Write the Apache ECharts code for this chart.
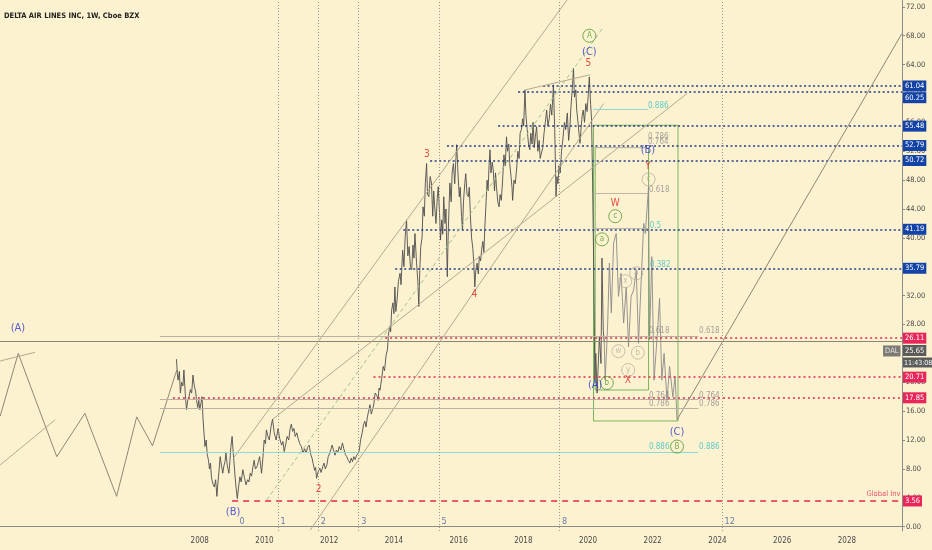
<!DOCTYPE html>
<html><head><meta charset="utf-8">
<script src="https://cdn.jsdelivr.net/npm/echarts@6/dist/echarts.min.js"></script>
<style>html,body{margin:0;padding:0;background:#fdf2d0}#c{width:932px;height:550px}</style>
</head><body><div id="c"></div>
<script>
const chartTitle = 'DELTA AIR LINES INC, 1W, Cboe BZX';
const xTicks = [2008,2010,2012,2014,2016,2018,2020,2022,2024,2026,2028];
const yTicks = [0,4,8,12,16,20,24,28,32,36,40,44,48,52,56,60,64,68,72];
const X_MIN = 2001.826, X_MAX = 2029.703, Y_MIN = -0.6, Y_MAX = 72.95;

// weekly price path
const priceData = [[2007.28,23.2],[2007.31,21.0],[2007.33,20.3],[2007.37,21.5],[2007.40,18.5],[2007.44,20.0],[2007.48,19.5],[2007.51,21.7],[2007.55,18.5],[2007.59,16.2],[2007.63,17.5],[2007.67,18.0],[2007.71,19.0],[2007.75,18.5],[2007.79,21.0],[2007.83,19.5],[2007.87,18.8],[2007.90,17.5],[2007.94,16.5],[2007.97,17.5],[2008.00,16.2],[2008.04,17.2],[2008.07,18.0],[2008.10,15.0],[2008.13,13.0],[2008.16,11.1],[2008.20,12.0],[2008.23,10.0],[2008.27,9.2],[2008.30,8.0],[2008.33,8.8],[2008.36,6.9],[2008.40,6.0],[2008.45,5.5],[2008.49,6.5],[2008.53,4.2],[2008.56,6.0],[2008.60,8.0],[2008.63,9.7],[2008.67,8.5],[2008.71,7.4],[2008.75,8.5],[2008.78,9.0],[2008.81,10.2],[2008.85,8.5],[2008.90,7.4],[2008.93,9.0],[2008.96,11.0],[2009.00,12.5],[2009.03,10.5],[2009.06,8.8],[2009.09,7.0],[2009.12,5.5],[2009.16,3.9],[2009.20,5.5],[2009.24,6.9],[2009.28,6.2],[2009.33,7.9],[2009.38,6.8],[2009.43,5.8],[2009.48,6.5],[2009.52,6.2],[2009.56,7.4],[2009.60,7.0],[2009.64,8.2],[2009.68,9.2],[2009.72,8.0],[2009.77,8.3],[2009.81,9.0],[2009.85,9.7],[2009.88,8.5],[2009.91,7.4],[2009.95,9.5],[2009.99,12.0],[2010.03,11.5],[2010.06,13.4],[2010.10,12.6],[2010.15,12.0],[2010.20,13.8],[2010.25,14.9],[2010.30,13.0],[2010.33,12.5],[2010.36,12.0],[2010.42,13.6],[2010.47,12.2],[2010.53,11.3],[2010.57,11.8],[2010.61,10.4],[2010.66,11.5],[2010.70,12.5],[2010.75,12.0],[2010.79,13.5],[2010.83,14.2],[2010.87,13.2],[2010.91,13.6],[2010.95,12.5],[2011.00,13.0],[2011.04,12.2],[2011.09,11.5],[2011.14,11.1],[2011.19,10.2],[2011.24,10.8],[2011.29,10.2],[2011.33,11.0],[2011.38,11.3],[2011.43,10.0],[2011.47,9.5],[2011.50,8.8],[2011.55,7.8],[2011.58,8.2],[2011.61,6.7],[2011.66,7.6],[2011.71,8.1],[2011.75,7.5],[2011.80,8.3],[2011.84,8.8],[2011.88,8.0],[2011.93,8.6],[2011.97,9.7],[2012.02,10.2],[2012.06,10.8],[2012.09,11.3],[2012.14,10.5],[2012.18,9.9],[2012.22,10.6],[2012.27,10.3],[2012.31,11.1],[2012.36,10.6],[2012.41,11.6],[2012.45,10.8],[2012.50,10.0],[2012.54,9.7],[2012.59,9.2],[2012.64,8.8],[2012.68,9.5],[2012.72,9.0],[2012.76,9.7],[2012.80,9.3],[2012.85,9.9],[2012.90,10.2],[2012.93,10.6],[2012.97,12.0],[2013.02,13.0],[2013.06,14.1],[2013.10,14.6],[2013.14,13.8],[2013.18,15.2],[2013.22,16.0],[2013.26,16.9],[2013.30,15.6],[2013.34,16.2],[2013.38,17.0],[2013.42,18.5],[2013.47,18.2],[2013.51,17.5],[2013.54,19.2],[2013.57,18.9],[2013.62,20.5],[2013.67,22.2],[2013.71,21.6],[2013.76,23.8],[2013.80,24.5],[2013.83,26.5],[2013.87,27.8],[2013.90,27.0],[2013.93,30.0],[2013.97,31.0],[2014.00,29.5],[2014.03,33.2],[2014.06,29.8],[2014.10,31.5],[2014.14,34.0],[2014.19,35.1],[2014.22,33.5],[2014.27,38.3],[2014.31,36.0],[2014.35,40.2],[2014.39,42.5],[2014.43,37.5],[2014.47,38.8],[2014.51,36.0],[2014.55,35.6],[2014.59,39.0],[2014.62,37.2],[2014.65,40.6],[2014.70,36.5],[2014.74,34.0],[2014.77,30.5],[2014.80,35.5],[2014.83,38.8],[2014.87,40.0],[2014.90,44.3],[2014.94,43.0],[2014.97,47.5],[2015.01,50.3],[2015.04,46.0],[2015.08,45.7],[2015.12,48.5],[2015.16,47.6],[2015.20,43.0],[2015.23,46.5],[2015.26,44.3],[2015.30,42.0],[2015.34,45.5],[2015.37,47.1],[2015.41,43.5],[2015.44,39.7],[2015.48,42.5],[2015.51,40.5],[2015.54,45.7],[2015.58,42.0],[2015.61,44.0],[2015.65,34.6],[2015.68,41.0],[2015.73,47.6],[2015.77,45.0],[2015.80,49.0],[2015.84,50.3],[2015.88,47.5],[2015.91,50.5],[2015.94,52.9],[2015.98,49.0],[2016.02,45.7],[2016.05,47.0],[2016.09,43.0],[2016.12,41.1],[2016.15,45.0],[2016.19,47.5],[2016.22,48.9],[2016.26,46.0],[2016.30,45.7],[2016.33,47.0],[2016.37,42.5],[2016.40,40.0],[2016.44,38.5],[2016.47,36.5],[2016.50,33.2],[2016.53,35.5],[2016.57,36.5],[2016.61,35.0],[2016.64,37.5],[2016.68,36.8],[2016.71,38.3],[2016.75,39.5],[2016.78,38.0],[2016.81,41.5],[2016.85,45.0],[2016.88,48.0],[2016.91,46.5],[2016.94,50.0],[2016.97,52.2],[2017.00,49.0],[2017.04,50.5],[2017.07,49.4],[2017.11,46.5],[2017.14,49.0],[2017.17,47.1],[2017.21,45.0],[2017.25,44.3],[2017.28,46.0],[2017.32,45.2],[2017.36,48.0],[2017.40,51.5],[2017.44,50.0],[2017.48,54.0],[2017.51,52.0],[2017.55,53.0],[2017.58,50.3],[2017.62,48.5],[2017.65,47.0],[2017.67,45.2],[2017.71,48.0],[2017.75,47.5],[2017.79,49.4],[2017.83,52.0],[2017.87,51.0],[2017.90,54.5],[2017.94,55.0],[2017.98,56.5],[2018.01,55.5],[2018.05,60.5],[2018.08,57.0],[2018.12,55.0],[2018.16,53.0],[2018.20,52.2],[2018.23,54.5],[2018.27,53.0],[2018.30,56.0],[2018.34,52.5],[2018.37,54.0],[2018.41,55.4],[2018.45,52.0],[2018.49,53.5],[2018.52,51.0],[2018.56,50.8],[2018.60,52.5],[2018.64,54.5],[2018.68,56.0],[2018.72,57.7],[2018.76,55.5],[2018.80,56.5],[2018.84,58.5],[2018.88,57.0],[2018.93,61.2],[2018.95,58.0],[2018.97,55.0],[2018.99,50.5],[2019.01,45.7],[2019.04,48.5],[2019.07,47.5],[2019.10,50.0],[2019.14,49.0],[2019.18,52.0],[2019.23,54.0],[2019.27,56.0],[2019.31,55.0],[2019.36,57.3],[2019.40,53.5],[2019.44,55.4],[2019.47,58.0],[2019.51,60.5],[2019.55,63.5],[2019.58,59.5],[2019.62,60.5],[2019.65,57.7],[2019.69,56.0],[2019.72,54.5],[2019.75,53.1],[2019.79,55.5],[2019.82,57.0],[2019.85,57.7],[2019.89,56.0],[2019.93,58.6],[2019.97,57.5],[2020.01,60.0],[2020.04,62.3],[2020.08,58.5],[2020.11,56.3],[2020.14,48.0],[2020.18,34.2],[2020.21,20.3],[2020.24,24.0],[2020.28,18.5],[2020.35,26.3],[2020.40,22.6],[2020.43,37.2],[2020.47,27.2],[2020.50,25.65]];

// projected (ghost) path after the last bar
const ghostPath = [[2020.50,25.65],[2020.53,20.3],[2020.60,27.2],[2020.66,36.5],[2020.72,29.6],[2020.79,39.3],[2020.87,40.6],[2020.94,31.9],[2021.02,35.1],[2021.10,28.2],[2021.18,33.2],[2021.25,24.9],[2021.33,31.9],[2021.41,32.8],[2021.49,35.6],[2021.56,25.4],[2021.63,32.8],[2021.72,42.0],[2021.77,40.6],[2021.87,47.1],[2021.90,25.9],[2021.97,37.4],[2022.04,20.3],[2022.15,27.2],[2022.21,31.6],[2022.28,20.3],[2022.35,24.0],[2022.44,17.5],[2022.52,22.2],[2022.62,18.0],[2022.69,20.8],[2022.75,14.8]];

// hand-drawn path before the listing
const preListingPath = [[2001.83,15.3],[2002.39,24.0],[2003.58,9.7],[2004.45,15.7],[2005.43,4.2],[2006.05,15.2],[2006.54,11.2],[2007.29,21.7]];

const navyLevels = [61.04,60.25,55.48,52.79,50.72,41.19,35.79];
const navyStarts = [2018.61,2017.84,2017.22,2015.64,2015.12,2014.29,2014.04];
const redLevels = [26.11,20.71,17.85];
const redStarts = [2013.73,2013.37,2007.17];
const globalInv = 3.56, globalInvStart = 2009.0;
const globalInvText = [[2029.13,4.53,'Global Inv']];
const lastPrice = 25.65, countdown = '11:43:08', ticker = 'DAL';

const trendLines = [
  [[2009.04,9.5],[2019.35,72.95]],
  [[2011.41,-0.5],[2020.48,58.6]],
  [[2010.26,14.9],[2023.06,60.0]],
  [[2018.06,60.5],[2020.07,62.6]],
  [[2001.83,8.55],[2003.53,14.8]],
  [[2001.83,22.95],[2002.91,24.15]]
];
const projectionLine = [[2022.75,14.8],[2029.70,68.3]];
const dashedTrend = [[2010.07,3.7],[2020.48,69.25]];

const fibLowStart = 2006.77, fibLowEnd = 2023.41;
const fibLowGrey = [26.41,17.65,16.34];
const fibLowCyan = [10.3];
const fibHighStart = 2020.16, fibHighEnd = 2021.86;
const fibHighGrey = [52.5,46.2,41.3];
const fibHighCyan = [57.8];

const boxes = [[[2020.17,55.6],[2022.78,14.64]],[[2020.22,52.5],[2021.87,18.93]]];

const fibZoneLines = [2010.42,2011.66,2012.91,2015.39,2019.12,2024.14];
const fibZoneLabels = [[2009.15,0.65,'0'],[2010.42,0.65,'1'],[2011.66,0.65,'2'],[2012.91,0.65,'3'],[2015.39,0.65,'5'],[2019.12,0.65,'8'],[2024.14,0.65,'12']];

const blueLabels = [[2002.38,27.5,'(A)'],[2009.03,2.0,'(B)'],[2020.04,65.7,'(C)'],[2020.22,19.6,'(A)'],[2021.85,52.2,'(B)'],[2022.75,13.1,'(C)']];
const redLabels = [[2011.67,5.2,'2'],[2015.02,51.5,'3'],[2016.49,32.2,'4'],[2020.01,64.1,'5'],[2020.84,44.8,'W'],[2021.23,20.2,'X'],[2021.85,49.9,'Y']];
const greenCircles = [[2020.04,68.0,'A'],[2020.84,43.0,'c'],[2020.43,39.8,'a'],[2020.58,19.9,'b'],[2022.75,11.1,'B']];
const greyCircles = [[2020.94,24.3,'w'],[2021.15,34.0,'x'],[2021.49,35.1,'a'],[2021.54,24.1,'b'],[2021.24,21.7,'y'],[2021.87,48.1,'c']];
const fibGreyTexts = [[2023.75,27.1,'0.618'],[2022.2,27.1,'0.618'],[2023.75,18.1,'0.764'],[2022.2,18.1,'0.764'],[2023.75,17.0,'0.786'],[2022.2,17.0,'0.786'],[2022.17,54.0,'0.786'],[2022.17,53.3,'0.764'],[2022.2,46.6,'0.618']];
const fibCyanTexts = [[2023.75,11.0,'0.886'],[2022.2,11.0,'0.886'],[2022.17,58.3,'0.886'],[2022.08,41.6,'0.5'],[2022.23,36.3,'0.382']];

const FONT = "'Liberation Sans Narrow','DejaVu Sans Condensed','Roboto Condensed','Liberation Sans',sans-serif";
const NAVY = '#1f3b8a', NAVY_BG = '#1343a6', RED = '#e4284f', RED_BG = '#e8265a';
const TREND = '#b3a98f';

const tag = (bg, txt, extra) => Object.assign({show:true, position:'end', distance:1, formatter:txt, backgroundColor:bg, color:'#fff', fontSize:7.5, padding:[2,2,1,2], fontFamily:FONT}, extra||{});

const mlData = [];
navyLevels.forEach((v,i)=>{
  mlData.push([{coord:[navyStarts[i],v], lineStyle:{color:NAVY,type:[2,2.5],width:1.6}, label:tag(NAVY_BG, v.toFixed(2), i===1?{offset:[0,6]}:{})},{coord:[X_MAX,v]}]);
});
redLevels.forEach((v,i)=>{
  mlData.push([{coord:[redStarts[i],v], lineStyle:{color:RED,type:[2,3],width:1.6}, label:tag(RED_BG, v.toFixed(2))},{coord:[X_MAX,v]}]);
});
mlData.push([{coord:[globalInvStart,globalInv], lineStyle:{color:RED,type:[6,5],width:1.6}, label:tag(RED_BG, globalInv.toFixed(2))},{coord:[X_MAX,globalInv]}]);
// last price line and tags
mlData.push([{coord:[X_MIN,lastPrice], lineStyle:{color:'#8b8576',type:'solid',width:1}, label:{show:true, position:'end', distance:1, offset:[0,15], fontFamily:FONT,
  formatter:'{p|'+lastPrice.toFixed(2)+'}\n{t|'+countdown+'}',
  rich:{p:{backgroundColor:'#5b5b5b',color:'#fff',fontSize:7.5,padding:[2,2,1,2],lineHeight:12,fontFamily:FONT},t:{backgroundColor:'#5b5b5b',color:'#fff',fontSize:7,padding:[2,1,1,1],lineHeight:12,fontFamily:FONT}}}},{coord:[X_MAX,lastPrice]}]);
// trend lines
trendLines.forEach(s=>mlData.push([{coord:s[0], lineStyle:{color:TREND,width:1,type:'solid'}, label:{show:false}},{coord:s[1]}]));
mlData.push([{coord:projectionLine[0], lineStyle:{color:'#8f8674',width:1,type:'solid'}, label:{show:false}},{coord:projectionLine[1]}]);
mlData.push([{coord:dashedTrend[0], lineStyle:{color:'#9ec48a',width:1,type:[4,3]}, label:{show:false}},{coord:dashedTrend[1]}]);
// fib lines
fibLowGrey.forEach(v=>mlData.push([{coord:[fibLowStart,v], lineStyle:{color:'#b9b2a2',width:1,type:'solid'}, label:{show:false}},{coord:[fibLowEnd,v]}]));
fibLowCyan.forEach(v=>mlData.push([{coord:[fibLowStart,v], lineStyle:{color:'#8ed8d6',width:1,type:'solid'}, label:{show:false}},{coord:[fibLowEnd,v]}]));
fibHighGrey.forEach(v=>mlData.push([{coord:[fibHighStart,v], lineStyle:{color:'#bdb6a6',width:1,type:'solid'}, label:{show:false}},{coord:[fibHighEnd,v]}]));
fibHighCyan.forEach(v=>mlData.push([{coord:[fibHighStart,v], lineStyle:{color:'#8ed8d6',width:1,type:'solid'}, label:{show:false}},{coord:[fibHighEnd,v]}]));
// fib time zones
fibZoneLines.forEach(x=>mlData.push({xAxis:x, lineStyle:{color:'#9a968c',width:1,type:[1,2]}, label:{show:false}}));

const textSeries = (data, color, size, weight) => ({
  type:'scatter', data, symbolSize:1, itemStyle:{color:'rgba(0,0,0,0)'}, silent:true, z:6, clip:false,
  label:{show:true, position:'inside', formatter:p=>p.value[2], color, fontSize:size, fontWeight:weight||'normal', fontFamily:FONT}
});
const circleSeries = (data, color) => ({
  type:'scatter', data, symbol:'circle', symbolSize:13, silent:true, z:6,
  itemStyle:{color:'rgba(0,0,0,0)', borderColor:color, borderWidth:1},
  label:{show:true, position:'inside', formatter:p=>p.value[2], color, fontSize:8, fontFamily:FONT}
});

const chart = echarts.init(document.getElementById('c'), null, {renderer:'canvas'});
chart.setOption({
  backgroundColor:'#fdf2d0',
  animation:false,
  textStyle:{fontFamily:FONT},
  title:{text:chartTitle, left:-1, top:7, textStyle:{fontSize:7.5, fontWeight:'bold', color:'#222', fontFamily:FONT}},
  grid:{left:0, right:30, top:0, bottom:19},
  xAxis:{type:'value', min:X_MIN, max:X_MAX, splitLine:{show:false},
    axisLine:{show:true, lineStyle:{color:'#8a8a8a'}}, axisTick:{show:false},
    axisLabel:{customValues:xTicks, formatter:v=>String(Math.round(v)), fontSize:8, color:'#4a4a4a', margin:6, fontFamily:FONT}},
  yAxis:{type:'value', position:'right', min:Y_MIN, max:Y_MAX, splitLine:{show:false},
    axisLine:{show:true, lineStyle:{color:'#8a8a8a'}},
    axisTick:{show:true, customValues:yTicks, length:3, lineStyle:{color:'#8a8a8a'}},
    axisLabel:{customValues:yTicks, formatter:v=>v.toFixed(2), fontSize:7.5, color:'#4a4a4a', margin:4, fontFamily:FONT}},
  series:[
    {type:'line', data:[], silent:true, z:2,
      markLine:{symbol:['none','none'], silent:true, animation:false, precision:2, data:mlData},
      markArea:{silent:true, data:boxes.map(b=>[{coord:b[0], itemStyle:{color:'rgba(0,0,0,0)', borderColor:'#79b45e', borderWidth:1}},{coord:b[1]}])}},
    {type:'line', data:preListingPath, showSymbol:false, silent:true, z:3, lineStyle:{color:'#8f8674', width:1}},
    {type:'line', data:ghostPath, showSymbol:false, silent:true, z:3, lineStyle:{color:'#8a8a8a', width:0.9}},
    {type:'line', data:priceData, showSymbol:false, silent:true, z:4, lineStyle:{color:'#4d4d4d', width:0.9}},
    textSeries(blueLabels, '#2b35cf', 11),
    textSeries(redLabels, '#e0201c', 10),
    circleSeries(greenCircles, '#4d9a2e'),
    circleSeries(greyCircles, '#b8b0a0'),
    textSeries(fibGreyTexts, '#8c8c8c', 8),
    textSeries(fibCyanTexts, '#36bfc6', 8),
    textSeries(globalInvText, RED, 7.5),
    Object.assign(textSeries(fibZoneLabels, '#3f5d9c', 9), {label:{show:true, position:'right', distance:2, formatter:p=>p.value[2], color:'#3f5d9c', fontSize:9, fontFamily:FONT}}),
    Object.assign(textSeries([[X_MAX,lastPrice,ticker]], '#fff', 8), {label:{show:true, position:'left', distance:1, offset:[0,9.5], formatter:p=>p.value[2], color:'#fff', backgroundColor:'#5b5b5b', padding:[2,2,1,2], fontSize:7.5, fontFamily:FONT}})
  ]
});
</script></body></html>
